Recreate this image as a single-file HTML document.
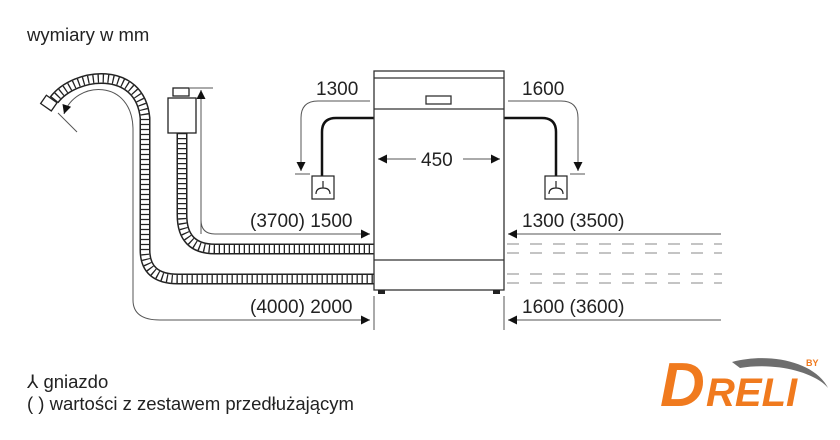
<!DOCTYPE html>
<html><head><meta charset="utf-8"><style>
html,body{margin:0;padding:0;background:#fff;}
svg{display:block;font-family:"Liberation Sans",Arial,sans-serif;}
</style></head><body>
<svg width="840" height="440" viewBox="0 0 840 440" xmlns="http://www.w3.org/2000/svg">
<defs>
<marker id="ah" viewBox="0 0 10 10" refX="10" refY="5" markerWidth="11" markerHeight="9" markerUnits="userSpaceOnUse" orient="auto"><path d="M0,0 L10,5 L0,10 z" fill="#111"/></marker>
</defs>
<rect width="840" height="440" fill="#fff"/>
<text x="27" y="41" font-size="18.5" fill="#222">wymiary w mm</text>

<g fill="none">
<path d="M54,100 C75,72 140,65 145,118 L145,250 Q145,279 178,279 L374,279" stroke="#222" stroke-width="11"/>
<path d="M54,100 C75,72 140,65 145,118 L145,250 Q145,279 178,279 L374,279" stroke="#fff" stroke-width="8"/>
<path d="M54,100 C75,72 140,65 145,118 L145,250 Q145,279 178,279 L374,279" stroke="#222" stroke-width="8" stroke-dasharray="1.3 3.7"/>
<path d="M182,133 L182,215 Q182,249 215,249 L374,249" stroke="#222" stroke-width="11"/>
<path d="M182,133 L182,215 Q182,249 215,249 L374,249" stroke="#fff" stroke-width="8"/>
<path d="M182,133 L182,215 Q182,249 215,249 L374,249" stroke="#222" stroke-width="8" stroke-dasharray="1.3 3.7"/>
</g>
<rect x="43" y="98" width="13" height="10" fill="#fff" stroke="#222" stroke-width="1.3" transform="rotate(35 49 102)"/>
<rect x="168" y="98" width="28" height="35" fill="#fff" stroke="#222" stroke-width="1.3"/>
<rect x="173" y="88" width="16" height="8" fill="#fff" stroke="#222" stroke-width="1.3"/>

<g fill="none" stroke="#555" stroke-width="1">
<path d="M133,300 L133,130 C133,78 75,80 64,114" marker-end="url(#ah)"/>
<path d="M133,300 Q133,320 160,320 L370,320" marker-end="url(#ah)"/>
<line x1="58" y1="113" x2="77" y2="132"/>
<path d="M201,234 L201,90" marker-end="url(#ah)"/>
<path d="M201,220 Q201,234 215,234 L370,234" marker-end="url(#ah)"/>
<line x1="190" y1="88" x2="213" y2="88"/>
<path d="M370,101 L318,101 Q301,101 301,118 L301,171" marker-end="url(#ah)" />
<line x1="295" y1="174" x2="310" y2="174"/>
<path d="M508,101 L561,101 Q578,101 578,118 L578,171" marker-end="url(#ah)"/>
<line x1="570" y1="174" x2="585" y2="174"/>
<path d="M721,234 L508,234" marker-end="url(#ah)"/>
<path d="M721,320 L508,320" marker-end="url(#ah)"/>
<line x1="374" y1="296" x2="374" y2="330"/>
<line x1="504" y1="296" x2="504" y2="330"/>
</g>
<g stroke="#888" stroke-width="1" stroke-dasharray="12 11">
<line x1="507" y1="244" x2="722" y2="244"/>
<line x1="507" y1="253" x2="722" y2="253"/>
<line x1="507" y1="274" x2="722" y2="274"/>
<line x1="507" y1="283" x2="722" y2="283"/>
</g>

<g fill="none" stroke="#111" stroke-width="2.5">
<path d="M374,118 L336,118 Q322,118 322,132 L322,176"/>
<path d="M504,118 L542,118 Q556,118 556,132 L556,176"/>
</g>
<g fill="#fff" stroke="#222" stroke-width="1.2">
<rect x="312" y="176" width="22" height="23"/>
<rect x="545" y="176" width="22" height="23"/>
</g>
<g fill="none" stroke="#222" stroke-width="1.2">
<path d="M323,181 L323,188 M316,194 Q316,188 323,188 Q330,188 330,194"/>
<path d="M556,181 L556,188 M549,194 Q549,188 556,188 Q563,188 563,194"/>
</g>

<g fill="none" stroke="#333" stroke-width="1.3">
<rect x="374" y="71" width="130" height="219" fill="#fff"/>
<line x1="374" y1="78" x2="504" y2="78"/>
<line x1="374" y1="109" x2="504" y2="109"/>
<line x1="374" y1="260" x2="504" y2="260"/>
<rect x="426" y="96" width="25" height="8"/>
</g>
<g fill="none" stroke="#555" stroke-width="1">
<path d="M416,159 L378,159" marker-end="url(#ah)"/>
<path d="M463,159 L500,159" marker-end="url(#ah)"/>
</g>
<rect x="378" y="290" width="7" height="4" fill="#222"/>
<rect x="493" y="290" width="7" height="4" fill="#222"/>

<g font-size="19" fill="#222">
<text x="316" y="95">1300</text>
<text x="522" y="95">1600</text>
<text x="421" y="166">450</text>
<text x="250" y="227">(3700) 1500</text>
<text x="250" y="313">(4000) 2000</text>
<text x="522" y="227">1300 (3500)</text>
<text x="522" y="313">1600 (3600)</text>
</g>
<g font-size="18.5" fill="#222">
<text x="27" y="388">⅄ gniazdo</text>
<text x="27" y="410">( ) wartości z zestawem przedłużającym</text>
</g>

<path d="M732,362 C770,352 815,362 828,388 C815,372 775,362 740,368 z" fill="#6e6e6e"/>
<text x="660" y="406" font-size="62" font-weight="bold" font-style="italic" fill="#f07a1e" letter-spacing="-2">D</text>
<text x="706" y="406" font-size="40" font-weight="bold" font-style="italic" fill="#f07a1e">RELI</text>
<text x="806" y="366" font-size="9" font-weight="bold" fill="#f07a1e">BY</text>
</svg>
</body></html>
